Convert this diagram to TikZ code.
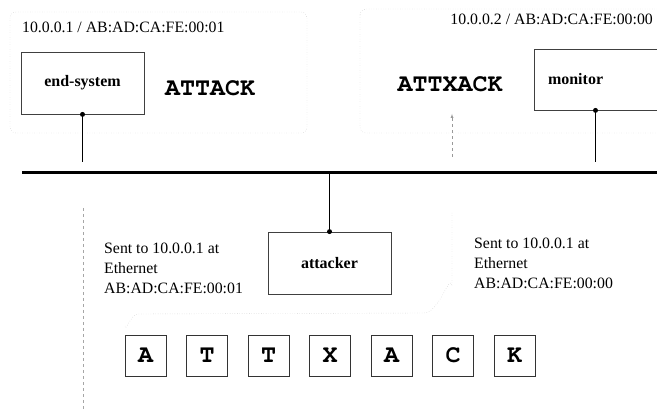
\documentclass[tikz,border=0pt]{standalone}
\usepackage[T1]{fontenc}
\usepackage{fontspec}
\setmainfont{Liberation Serif}
\usetikzlibrary{positioning, arrows, calc}
\tikzset{
	every edge/.style={
		draw, semithick
	}
}
\newcommand{\courb}{\usefont{T1}{pcr}{b}{n}}

\begin{document}
\begin{tikzpicture}[x=1pt, y=-1pt,
	host/.style={draw=black!75, line width=0.8pt, minimum width=123pt, minimum height=62pt, font=\fontsize{16}{18}\selectfont\bfseries},
	letter/.style={draw=black!80, line width=0.8pt, minimum size=41pt, inner sep=0pt, font=\fontsize{25}{25}\courb},
	addr/.style={font=\fontsize{15.8}{20}\selectfont, align=left, inner sep=0pt},
	msg/.style={font=\fontsize{25}{25}\courb, inner sep=0pt},
	faint/.style={draw=gray!55, dotted, thin},
	tap/.style={circle, fill, inner sep=0pt, minimum size=5pt}]
	\useasboundingbox (0,0) rectangle (657,409);
	\clip (0,0) rectangle (657,409);
	\def\gap{61.5}
	% faint outlines
	\draw[faint, rounded corners=6pt] (10,12) rectangle (307,133);
	\draw[faint, rounded corners=6pt] (360,9) rectangle (670,133);
	\coordinate (dotT) at (452,213);
	\coordinate (dotB) at (125,326);
	\draw[faint] (dotT) -- (452,286) to[out=95,in=0] (424,313) -- (138,314) to[out=180,in=-90] (dotB);
	\coordinate (sideT) at (83,208);
	\coordinate (sideB) at (83,409);
	\draw[faint, dashed, draw=gray!70] (sideT) -- (sideB);
	% hosts
	\node[host] (endsys) at (82.5,83) {end-system};
	\node[host, text width=112pt, align=left, inner xsep=14pt, minimum height=61pt] (monitor) at (604,79.5) {monitor};
	\node[host] (attacker) at (329.5,263) {attacker};
	% addresses
	\node[addr, anchor=west] (addr1) at (22,27) {10.0.0.1 / AB:AD:CA:FE:00:01};
	\node[addr, anchor=east] (addr2) at (653,19) {10.0.0.2 / AB:AD:CA:FE:00:00};
	\node[addr, anchor=west] (sent1) at (104,268) {Sent to 10.0.0.1 at\\Ethernet\\AB:AD:CA:FE:00:01};
	\node[addr, anchor=west] (sent2) at (474,263) {Sent to 10.0.0.1 at\\Ethernet\\AB:AD:CA:FE:00:00};
	% messages
	\node[msg] (orig) at (210,88) {ATTACK};
	\node[msg] (forged) at (450,84) {ATTXACK};
	\coordinate (arrTail) at (452,157);
	\coordinate (arrTip) at (452,114);
	\draw[dashed, draw=gray!80, -latex] (arrTail) -- (arrTip);
	% bus
	\coordinate (busL) at (22,172.5);
	\coordinate (busR) at (657,172.5);
	\coordinate (busA) at (329.5,172.5);
	\draw[line width=3.5pt] (busL) -- (busR);
	% taps
	\node[tap] (tapE) at (endsys.south) {};
	\node[tap] (tapM) at ($(monitor.south)+(-8.5,0)$) {};
	\node[tap] (tapA) at (attacker.north) {};
	\coordinate (dropE) at (82.5,162);
	\coordinate (dropM) at (595.5,162);
	\draw (tapE) edge (dropE);
	\draw (tapM) edge (dropM);
	\draw (busA) edge (tapA);
	% letters
	\foreach \ch [count=\i] in {A,T,T,X,A,C,K}
		\node[letter] (L\i) at ({145.5+(\i-1)*\gap},355.5) {\ch};
\end{tikzpicture}
\end{document}
